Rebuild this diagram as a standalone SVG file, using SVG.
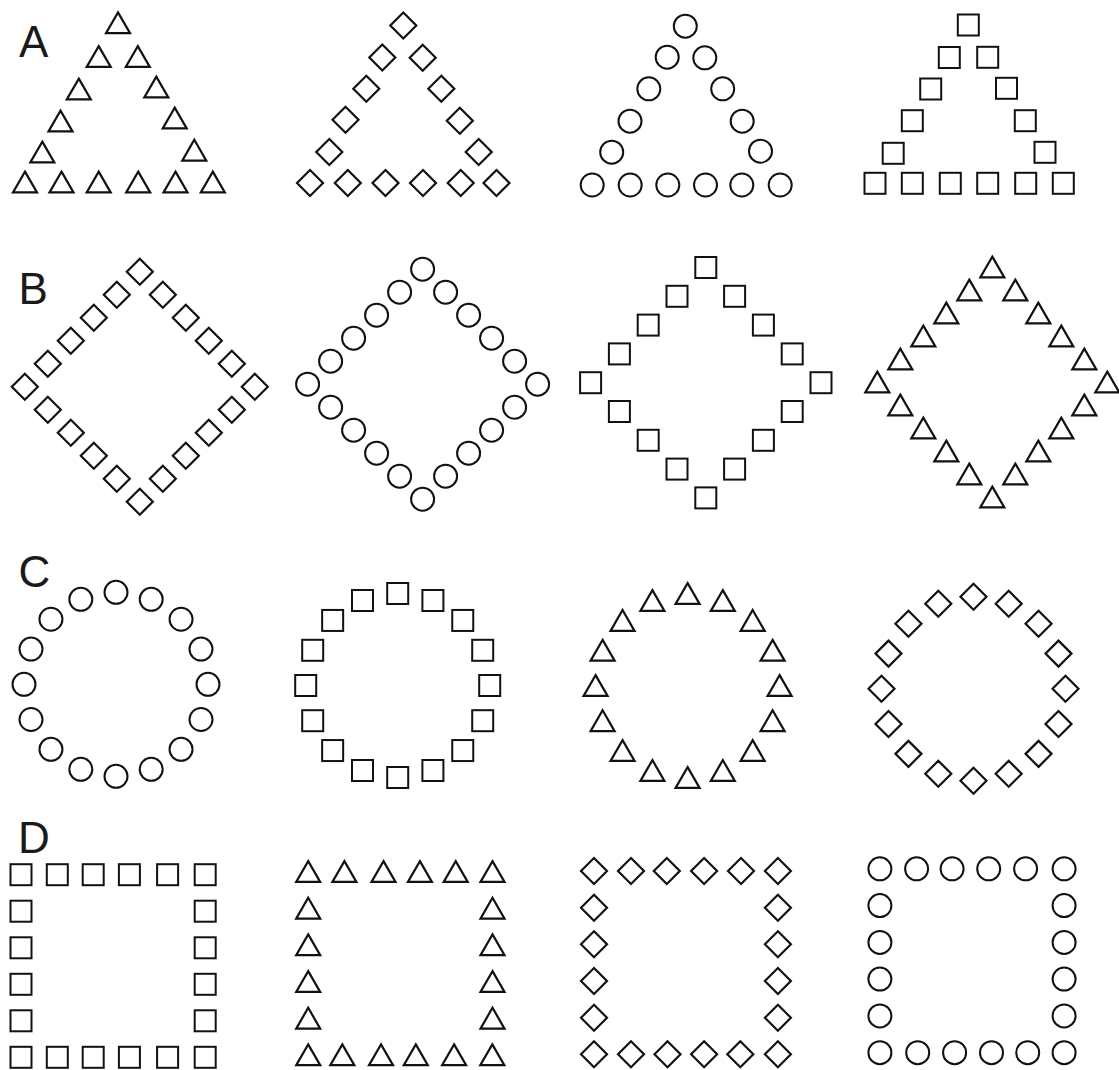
<svg xmlns="http://www.w3.org/2000/svg" xmlns:xlink="http://www.w3.org/1999/xlink" width="1119" height="1070" viewBox="0 0 1119 1070">
<style>
.s{fill:none;stroke:#111;stroke-width:2;stroke-linejoin:miter}
.t{fill:none;stroke:#111;stroke-width:2.2;stroke-linejoin:miter}
.lbl{font-family:"Liberation Sans",Arial,sans-serif;font-size:44px;fill:#1a1a1a}
</style>
<defs>
<path id="tri" class="t" d="M0,-10.9 L12,9.9 L-12,9.9 Z"/>
<path id="dia" class="t" d="M0,-13 L13,0 L0,13 L-13,0 Z"/>
<circle id="cir" class="s" r="11.5"/>
<rect id="sq" class="s" x="-10.5" y="-10.5" width="21" height="21"/>
</defs>
<rect width="1119" height="1070" fill="#fff"/>
<g id="labels">
<text class="lbl" x="19" y="57">A</text>
<text class="lbl" x="18.5" y="304">B</text>
<text class="lbl" x="18.5" y="586.5">C</text>
<text class="lbl" x="18" y="853">D</text>
</g>
<g id="A-triangles">
<use href="#tri" x="118" y="23.3"/>
<use href="#tri" x="98.7" y="57"/><use href="#tri" x="137.8" y="57"/>
<use href="#tri" x="78.8" y="89.5"/><use href="#tri" x="156.3" y="87.5"/>
<use href="#tri" x="60.5" y="121.5"/><use href="#tri" x="174.7" y="118.5"/>
<use href="#tri" x="42.3" y="152.5"/><use href="#tri" x="194.3" y="150.7"/>
<use href="#tri" x="25" y="182.5"/><use href="#tri" x="61.5" y="182.5"/><use href="#tri" x="98.7" y="182.5"/><use href="#tri" x="138.2" y="182.5"/><use href="#tri" x="175.5" y="182.5"/><use href="#tri" x="212.8" y="182.5"/>
</g>
<g id="A-diamonds">
<use href="#dia" x="403.3" y="25.5"/>
<use href="#dia" x="382.3" y="57.5"/><use href="#dia" x="422.7" y="57.8"/>
<use href="#dia" x="366.3" y="88.7"/><use href="#dia" x="441.3" y="88.7"/>
<use href="#dia" x="345.5" y="119.8"/><use href="#dia" x="459.8" y="120.7"/>
<use href="#dia" x="329.3" y="152"/><use href="#dia" x="478.7" y="152"/>
<use href="#dia" x="310" y="183"/><use href="#dia" x="347.8" y="183"/><use href="#dia" x="385.5" y="183"/><use href="#dia" x="423" y="183"/><use href="#dia" x="460.7" y="183"/><use href="#dia" x="496.5" y="183"/>
</g>
<g id="A-circles">
<use href="#cir" x="685.3" y="26.2"/>
<use href="#cir" x="667.2" y="57.2"/><use href="#cir" x="704.8" y="57.8"/>
<use href="#cir" x="648.8" y="88.8"/><use href="#cir" x="722.7" y="88.8"/>
<use href="#cir" x="630" y="121.2"/><use href="#cir" x="742.2" y="121.2"/>
<use href="#cir" x="611.7" y="152.2"/><use href="#cir" x="760.5" y="151.2"/>
<use href="#cir" x="592.2" y="185"/><use href="#cir" x="630.2" y="185"/><use href="#cir" x="667.8" y="185"/><use href="#cir" x="705.5" y="185"/><use href="#cir" x="741.8" y="185"/><use href="#cir" x="780.2" y="185"/>
</g>
<g id="A-squares">
<use href="#sq" x="968.3" y="25"/>
<use href="#sq" x="949.3" y="57.5"/><use href="#sq" x="987.7" y="57.3"/>
<use href="#sq" x="930.7" y="89"/><use href="#sq" x="1006.5" y="88.3"/>
<use href="#sq" x="912.3" y="120.7"/><use href="#sq" x="1025.3" y="120.7"/>
<use href="#sq" x="893.2" y="153.3"/><use href="#sq" x="1045" y="152.3"/>
<use href="#sq" x="875" y="183.3"/><use href="#sq" x="912.3" y="183.3"/><use href="#sq" x="950.3" y="183.3"/><use href="#sq" x="987.7" y="183.3"/><use href="#sq" x="1025.7" y="183.3"/><use href="#sq" x="1063.3" y="183.3"/>
</g>
<g id="B-diamonds">
<use href="#dia" x="139.8" y="271.7"/>
<use href="#dia" x="116.8" y="294.7"/><use href="#dia" x="93.8" y="317.7"/><use href="#dia" x="70.8" y="340.7"/><use href="#dia" x="47.8" y="363.7"/>
<use href="#dia" x="24.8" y="386.7"/>
<use href="#dia" x="47.8" y="409.7"/><use href="#dia" x="70.8" y="432.7"/><use href="#dia" x="93.8" y="455.7"/><use href="#dia" x="116.8" y="478.7"/>
<use href="#dia" x="139.8" y="501.7"/>
<use href="#dia" x="162.8" y="294.7"/><use href="#dia" x="185.8" y="317.7"/><use href="#dia" x="208.8" y="340.7"/><use href="#dia" x="231.8" y="363.7"/>
<use href="#dia" x="254.8" y="386.7"/>
<use href="#dia" x="231.8" y="409.7"/><use href="#dia" x="208.8" y="432.7"/><use href="#dia" x="185.8" y="455.7"/><use href="#dia" x="162.8" y="478.7"/>
</g>
<g id="B-circles">
<use href="#cir" x="422.6" y="269.2"/>
<use href="#cir" x="399.6" y="292.2"/><use href="#cir" x="376.6" y="315.2"/><use href="#cir" x="353.6" y="338.2"/><use href="#cir" x="330.6" y="361.2"/>
<use href="#cir" x="307.6" y="384.2"/>
<use href="#cir" x="330.6" y="407.2"/><use href="#cir" x="353.6" y="430.2"/><use href="#cir" x="376.6" y="453.2"/><use href="#cir" x="399.6" y="476.2"/>
<use href="#cir" x="422.6" y="499.2"/>
<use href="#cir" x="445.6" y="292.2"/><use href="#cir" x="468.6" y="315.2"/><use href="#cir" x="491.6" y="338.2"/><use href="#cir" x="514.6" y="361.2"/>
<use href="#cir" x="537.6" y="384.2"/>
<use href="#cir" x="514.6" y="407.2"/><use href="#cir" x="491.6" y="430.2"/><use href="#cir" x="468.6" y="453.2"/><use href="#cir" x="445.6" y="476.2"/>
</g>
<g id="B-squares">
<use href="#sq" x="705.8" y="267.5"/>
<use href="#sq" x="677" y="296.3"/><use href="#sq" x="648.2" y="325.1"/><use href="#sq" x="619.4" y="353.9"/>
<use href="#sq" x="590.6" y="382.7"/>
<use href="#sq" x="619.4" y="411.5"/><use href="#sq" x="648.2" y="440.3"/><use href="#sq" x="677" y="469.1"/>
<use href="#sq" x="705.8" y="497.9"/>
<use href="#sq" x="734.6" y="296.3"/><use href="#sq" x="763.4" y="325.1"/><use href="#sq" x="792.2" y="353.9"/>
<use href="#sq" x="821" y="382.7"/>
<use href="#sq" x="792.2" y="411.5"/><use href="#sq" x="763.4" y="440.3"/><use href="#sq" x="734.6" y="469.1"/>
</g>
<g id="B-triangles">
<use href="#tri" x="992.3" y="267.5"/>
<use href="#tri" x="969.3" y="290.5"/><use href="#tri" x="946.3" y="313.5"/><use href="#tri" x="923.3" y="336.5"/><use href="#tri" x="900.3" y="359.5"/>
<use href="#tri" x="877.3" y="382.5"/>
<use href="#tri" x="900.3" y="405.5"/><use href="#tri" x="923.3" y="428.5"/><use href="#tri" x="946.3" y="451.5"/><use href="#tri" x="969.3" y="474.5"/>
<use href="#tri" x="992.3" y="497.5"/>
<use href="#tri" x="1015.3" y="290.5"/><use href="#tri" x="1038.3" y="313.5"/><use href="#tri" x="1061.3" y="336.5"/><use href="#tri" x="1084.3" y="359.5"/>
<use href="#tri" x="1107.3" y="382.5"/>
<use href="#tri" x="1084.3" y="405.5"/><use href="#tri" x="1061.3" y="428.5"/><use href="#tri" x="1038.3" y="451.5"/><use href="#tri" x="1015.3" y="474.5"/>
</g>
<g id="C-circles">
<use href="#cir" x="116" y="592.3"/><use href="#cir" x="151.2" y="599.3"/><use href="#cir" x="181.05" y="619.25"/><use href="#cir" x="201" y="649.1"/>
<use href="#cir" x="208" y="684.3"/><use href="#cir" x="201" y="719.5"/><use href="#cir" x="181.05" y="749.35"/><use href="#cir" x="151.2" y="769.3"/>
<use href="#cir" x="116" y="776.3"/><use href="#cir" x="80.8" y="769.3"/><use href="#cir" x="50.95" y="749.35"/><use href="#cir" x="31" y="719.5"/>
<use href="#cir" x="24" y="684.3"/><use href="#cir" x="31" y="649.1"/><use href="#cir" x="50.95" y="619.25"/><use href="#cir" x="80.8" y="599.3"/>
</g>
<g id="C-squares">
<use href="#sq" x="397.7" y="593.5"/><use href="#sq" x="432.9" y="600.5"/><use href="#sq" x="462.75" y="620.45"/><use href="#sq" x="482.7" y="650.3"/>
<use href="#sq" x="489.7" y="685.5"/><use href="#sq" x="482.7" y="720.7"/><use href="#sq" x="462.75" y="750.55"/><use href="#sq" x="432.9" y="770.5"/>
<use href="#sq" x="397.7" y="777.5"/><use href="#sq" x="362.5" y="770.5"/><use href="#sq" x="332.65" y="750.55"/><use href="#sq" x="312.7" y="720.7"/>
<use href="#sq" x="305.7" y="685.5"/><use href="#sq" x="312.7" y="650.3"/><use href="#sq" x="332.65" y="620.45"/><use href="#sq" x="362.5" y="600.5"/>
</g>
<g id="C-triangles">
<use href="#tri" x="687.6" y="594"/><use href="#tri" x="722.8" y="601"/><use href="#tri" x="752.65" y="620.95"/><use href="#tri" x="772.6" y="650.8"/>
<use href="#tri" x="779.6" y="686"/><use href="#tri" x="772.6" y="721.2"/><use href="#tri" x="752.65" y="751.05"/><use href="#tri" x="722.8" y="771"/>
<use href="#tri" x="687.6" y="778"/><use href="#tri" x="652.4" y="771"/><use href="#tri" x="622.55" y="751.05"/><use href="#tri" x="602.6" y="721.2"/>
<use href="#tri" x="595.6" y="686"/><use href="#tri" x="602.6" y="650.8"/><use href="#tri" x="622.55" y="620.95"/><use href="#tri" x="652.4" y="601"/>
</g>
<g id="C-diamonds">
<use href="#dia" x="973.5" y="596.8"/><use href="#dia" x="1008.7" y="603.8"/><use href="#dia" x="1038.55" y="623.75"/><use href="#dia" x="1058.5" y="653.6"/>
<use href="#dia" x="1065.5" y="688.8"/><use href="#dia" x="1058.5" y="724"/><use href="#dia" x="1038.55" y="753.85"/><use href="#dia" x="1008.7" y="773.8"/>
<use href="#dia" x="973.5" y="780.8"/><use href="#dia" x="938.3" y="773.8"/><use href="#dia" x="908.45" y="753.85"/><use href="#dia" x="888.5" y="724"/>
<use href="#dia" x="881.5" y="688.8"/><use href="#dia" x="888.5" y="653.6"/><use href="#dia" x="908.45" y="623.75"/><use href="#dia" x="938.3" y="603.8"/>
</g>
<g id="D-squares">
<use href="#sq" x="21" y="874.7"/><use href="#sq" x="57.3" y="874.7"/><use href="#sq" x="93.2" y="874.7"/><use href="#sq" x="129.4" y="874.7"/><use href="#sq" x="167.6" y="874.7"/><use href="#sq" x="205.2" y="874.7"/>
<use href="#sq" x="21" y="911.2"/><use href="#sq" x="205.2" y="911.2"/>
<use href="#sq" x="21" y="947.8"/><use href="#sq" x="205.2" y="947.8"/>
<use href="#sq" x="21" y="984.3"/><use href="#sq" x="205.2" y="984.3"/>
<use href="#sq" x="21" y="1020.8"/><use href="#sq" x="205.2" y="1020.8"/>
<use href="#sq" x="21" y="1057.3"/><use href="#sq" x="57.3" y="1057.3"/><use href="#sq" x="93.2" y="1057.3"/><use href="#sq" x="129.4" y="1057.3"/><use href="#sq" x="167.6" y="1057.3"/><use href="#sq" x="205.2" y="1057.3"/>
</g>
<g id="D-triangles">
<use href="#tri" x="308.2" y="872"/><use href="#tri" x="344.4" y="872"/><use href="#tri" x="383.5" y="872"/><use href="#tri" x="419.9" y="872"/><use href="#tri" x="455.7" y="872"/><use href="#tri" x="492.5" y="872"/>
<use href="#tri" x="308.2" y="908.7"/><use href="#tri" x="492.5" y="908.7"/>
<use href="#tri" x="308.2" y="945.3"/><use href="#tri" x="492.5" y="945.3"/>
<use href="#tri" x="308.2" y="982"/><use href="#tri" x="492.5" y="982"/>
<use href="#tri" x="308.2" y="1018.7"/><use href="#tri" x="492.5" y="1018.7"/>
<use href="#tri" x="308.2" y="1055.3"/><use href="#tri" x="342.3" y="1055.3"/><use href="#tri" x="381" y="1055.3"/><use href="#tri" x="415.8" y="1055.3"/><use href="#tri" x="454.1" y="1055.3"/><use href="#tri" x="492.3" y="1055.3"/>
</g>
<g id="D-diamonds">
<use href="#dia" x="594" y="871"/><use href="#dia" x="631" y="871"/><use href="#dia" x="666.8" y="871"/><use href="#dia" x="704.1" y="871"/><use href="#dia" x="741" y="871"/><use href="#dia" x="777.9" y="871"/>
<use href="#dia" x="594" y="907.7"/><use href="#dia" x="777.9" y="907.7"/>
<use href="#dia" x="594" y="944.3"/><use href="#dia" x="777.9" y="944.3"/>
<use href="#dia" x="594" y="981"/><use href="#dia" x="777.9" y="981"/>
<use href="#dia" x="594" y="1017.7"/><use href="#dia" x="777.9" y="1017.7"/>
<use href="#dia" x="594" y="1054.3"/><use href="#dia" x="631" y="1054.3"/><use href="#dia" x="667.5" y="1054.3"/><use href="#dia" x="704.1" y="1054.3"/><use href="#dia" x="740.3" y="1054.3"/><use href="#dia" x="777.9" y="1054.3"/>
</g>
<g id="D-circles">
<use href="#cir" x="879.9" y="868.8"/><use href="#cir" x="916.6" y="868.8"/><use href="#cir" x="952.1" y="868.8"/><use href="#cir" x="988.7" y="868.8"/><use href="#cir" x="1025.6" y="868.8"/><use href="#cir" x="1064.1" y="868.8"/>
<use href="#cir" x="879.9" y="905.6"/><use href="#cir" x="1064.1" y="905.6"/>
<use href="#cir" x="879.9" y="942.4"/><use href="#cir" x="1064.1" y="942.4"/>
<use href="#cir" x="879.9" y="979.1"/><use href="#cir" x="1064.1" y="979.1"/>
<use href="#cir" x="879.9" y="1015.9"/><use href="#cir" x="1064.1" y="1015.9"/>
<use href="#cir" x="879.9" y="1052.7"/><use href="#cir" x="917.7" y="1052.7"/><use href="#cir" x="954.6" y="1052.7"/><use href="#cir" x="991.5" y="1052.7"/><use href="#cir" x="1027.7" y="1052.7"/><use href="#cir" x="1064.1" y="1052.7"/>
</g>
</svg>
